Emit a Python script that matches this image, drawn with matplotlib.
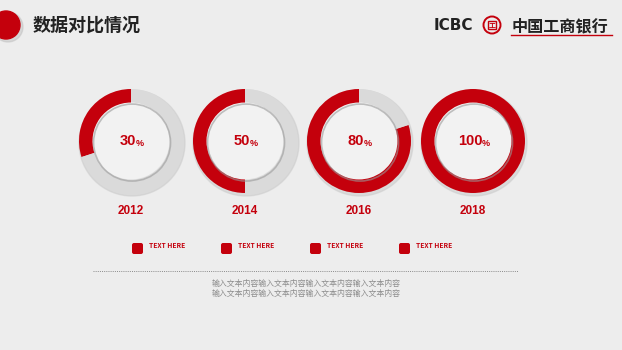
import matplotlib
matplotlib.use("Agg")
import matplotlib.pyplot as plt
from matplotlib.patches import Circle, FancyBboxPatch, Rectangle

plt.rcParams['font.family'] = ['Noto Sans CJK SC', 'DejaVu Sans']

# 数据
years = ['2012', '2014', '2016', '2018']
percents = [30, 50, 80, 100]
legend_labels = ['TEXT HERE', 'TEXT HERE', 'TEXT HERE', 'TEXT HERE']
title = '数据对比情况'
bank_name = '中国工商银行'
desc_lines = ['输入文本内容输入文本内容输入文本内容输入文本内容',
              '输入文本内容输入文本内容输入文本内容输入文本内容']

RED = '#c4000c'
GRAY = '#dadada'
BG = '#ededed'
NUMF = ['Liberation Sans', 'DejaVu Sans']

W, H = 622, 350
fig = plt.figure(figsize=(W / 100, H / 100), dpi=100)
fig.patch.set_facecolor(BG)
bg = fig.add_axes([0, 0, 1, 1])
bg.set_xlim(0, W)
bg.set_ylim(H, 0)
bg.axis('off')

# 左上角红点 + 标题
bg.add_patch(Circle((8, 27), 15, color='#b8b8b8', alpha=0.4, zorder=1))
bg.add_patch(Circle((6, 25), 14, color=RED, zorder=2))
bg.text(33, 25, title, fontsize=13, fontweight='bold', color='#222222', va='center')

# 工行标志
bg.text(434, 26, 'ICBC', fontsize=11, fontweight='bold', color='#222222', va='center',
        family=['DejaVu Sans'])
bg.add_patch(Circle((492, 25), 8.5, fill=False, ec=RED, lw=1.4))
bg.add_patch(Rectangle((488, 21), 8, 8, fill=False, ec=RED, lw=1.0))
bg.text(492, 25.5, '工', fontsize=5, color=RED, ha='center', va='center', fontweight='bold')
bg.text(512, 26, bank_name, fontsize=11.6, fontweight='bold', color='#222222', va='center')
bg.plot([511, 612], [35, 35], color=RED, lw=1.0)

# 环形图
centers_x = [131, 245, 359, 473]
cy, r = 141, 52
for cx, p in zip(centers_x, percents):
    # 阴影
    bg.add_patch(Circle((cx + 1, cy + 2), r + 1, color='#c9c9c9', alpha=0.5, zorder=1))
    ax = fig.add_axes([(cx - r) / W, 1 - (cy + r) / H, 2 * r / W, 2 * r / H])
    vals = [p, 100 - p] if p < 100 else [p]
    cols = [RED, GRAY] if p < 100 else [RED]
    ax.pie(vals, colors=cols, startangle=90, counterclock=True, radius=1,
           wedgeprops=dict(width=0.26, linewidth=0))
    ax.add_patch(Circle((0, 0), 0.74, color='#f2f2f2', zorder=0))
    ax.add_patch(Circle((0.02, -0.03), 0.74, fill=False, ec='#9a9a9a', lw=1.2, alpha=0.6, zorder=3))
    ax.set_xlim(-1, 1)
    ax.set_ylim(-1, 1)
    ax.set_aspect('equal')
    ax.axis('off')

# 顶层文字
top = fig.add_axes([0, 0, 1, 1])
top.set_xlim(0, W)
top.set_ylim(H, 0)
top.axis('off')
top.patch.set_alpha(0)
for cx, p, yr in zip(centers_x, percents, years):
    t = top.text(cx - 3, cy, str(p), fontsize=10.5, fontweight='bold', color=RED,
                 ha='center', va='center', family=NUMF)
    top.annotate('%', xy=(1, 0.0), xycoords=t, fontsize=6.5, fontweight='bold',
                 color=RED, va='bottom', ha='left', family=NUMF)
    top.text(cx, 211, yr, fontsize=8.5, fontweight='bold', color=RED,
             ha='center', va='center', family=NUMF)

# 图例方块
leg_x = [132, 221, 310, 399]
for lx, lab in zip(leg_x, legend_labels):
    top.add_patch(FancyBboxPatch((lx, 243), 11, 11, boxstyle='round,pad=0,rounding_size=2',
                                 fc=RED, ec='none'))
    top.text(lx + 17, 245, lab, fontsize=4.8, fontweight='bold', color=RED, va='center')

# 虚线与说明文字
top.plot([93, 518], [271, 271], color='#8a8a8a', lw=0.7, ls=(0, (1, 1.2)))
top.text(306, 283, desc_lines[0], fontsize=5.7, color='#8c8c8c', ha='center', va='center')
top.text(306, 293, desc_lines[1], fontsize=5.7, color='#8c8c8c', ha='center', va='center')

fig.savefig('out.png', dpi=100, facecolor=BG)
